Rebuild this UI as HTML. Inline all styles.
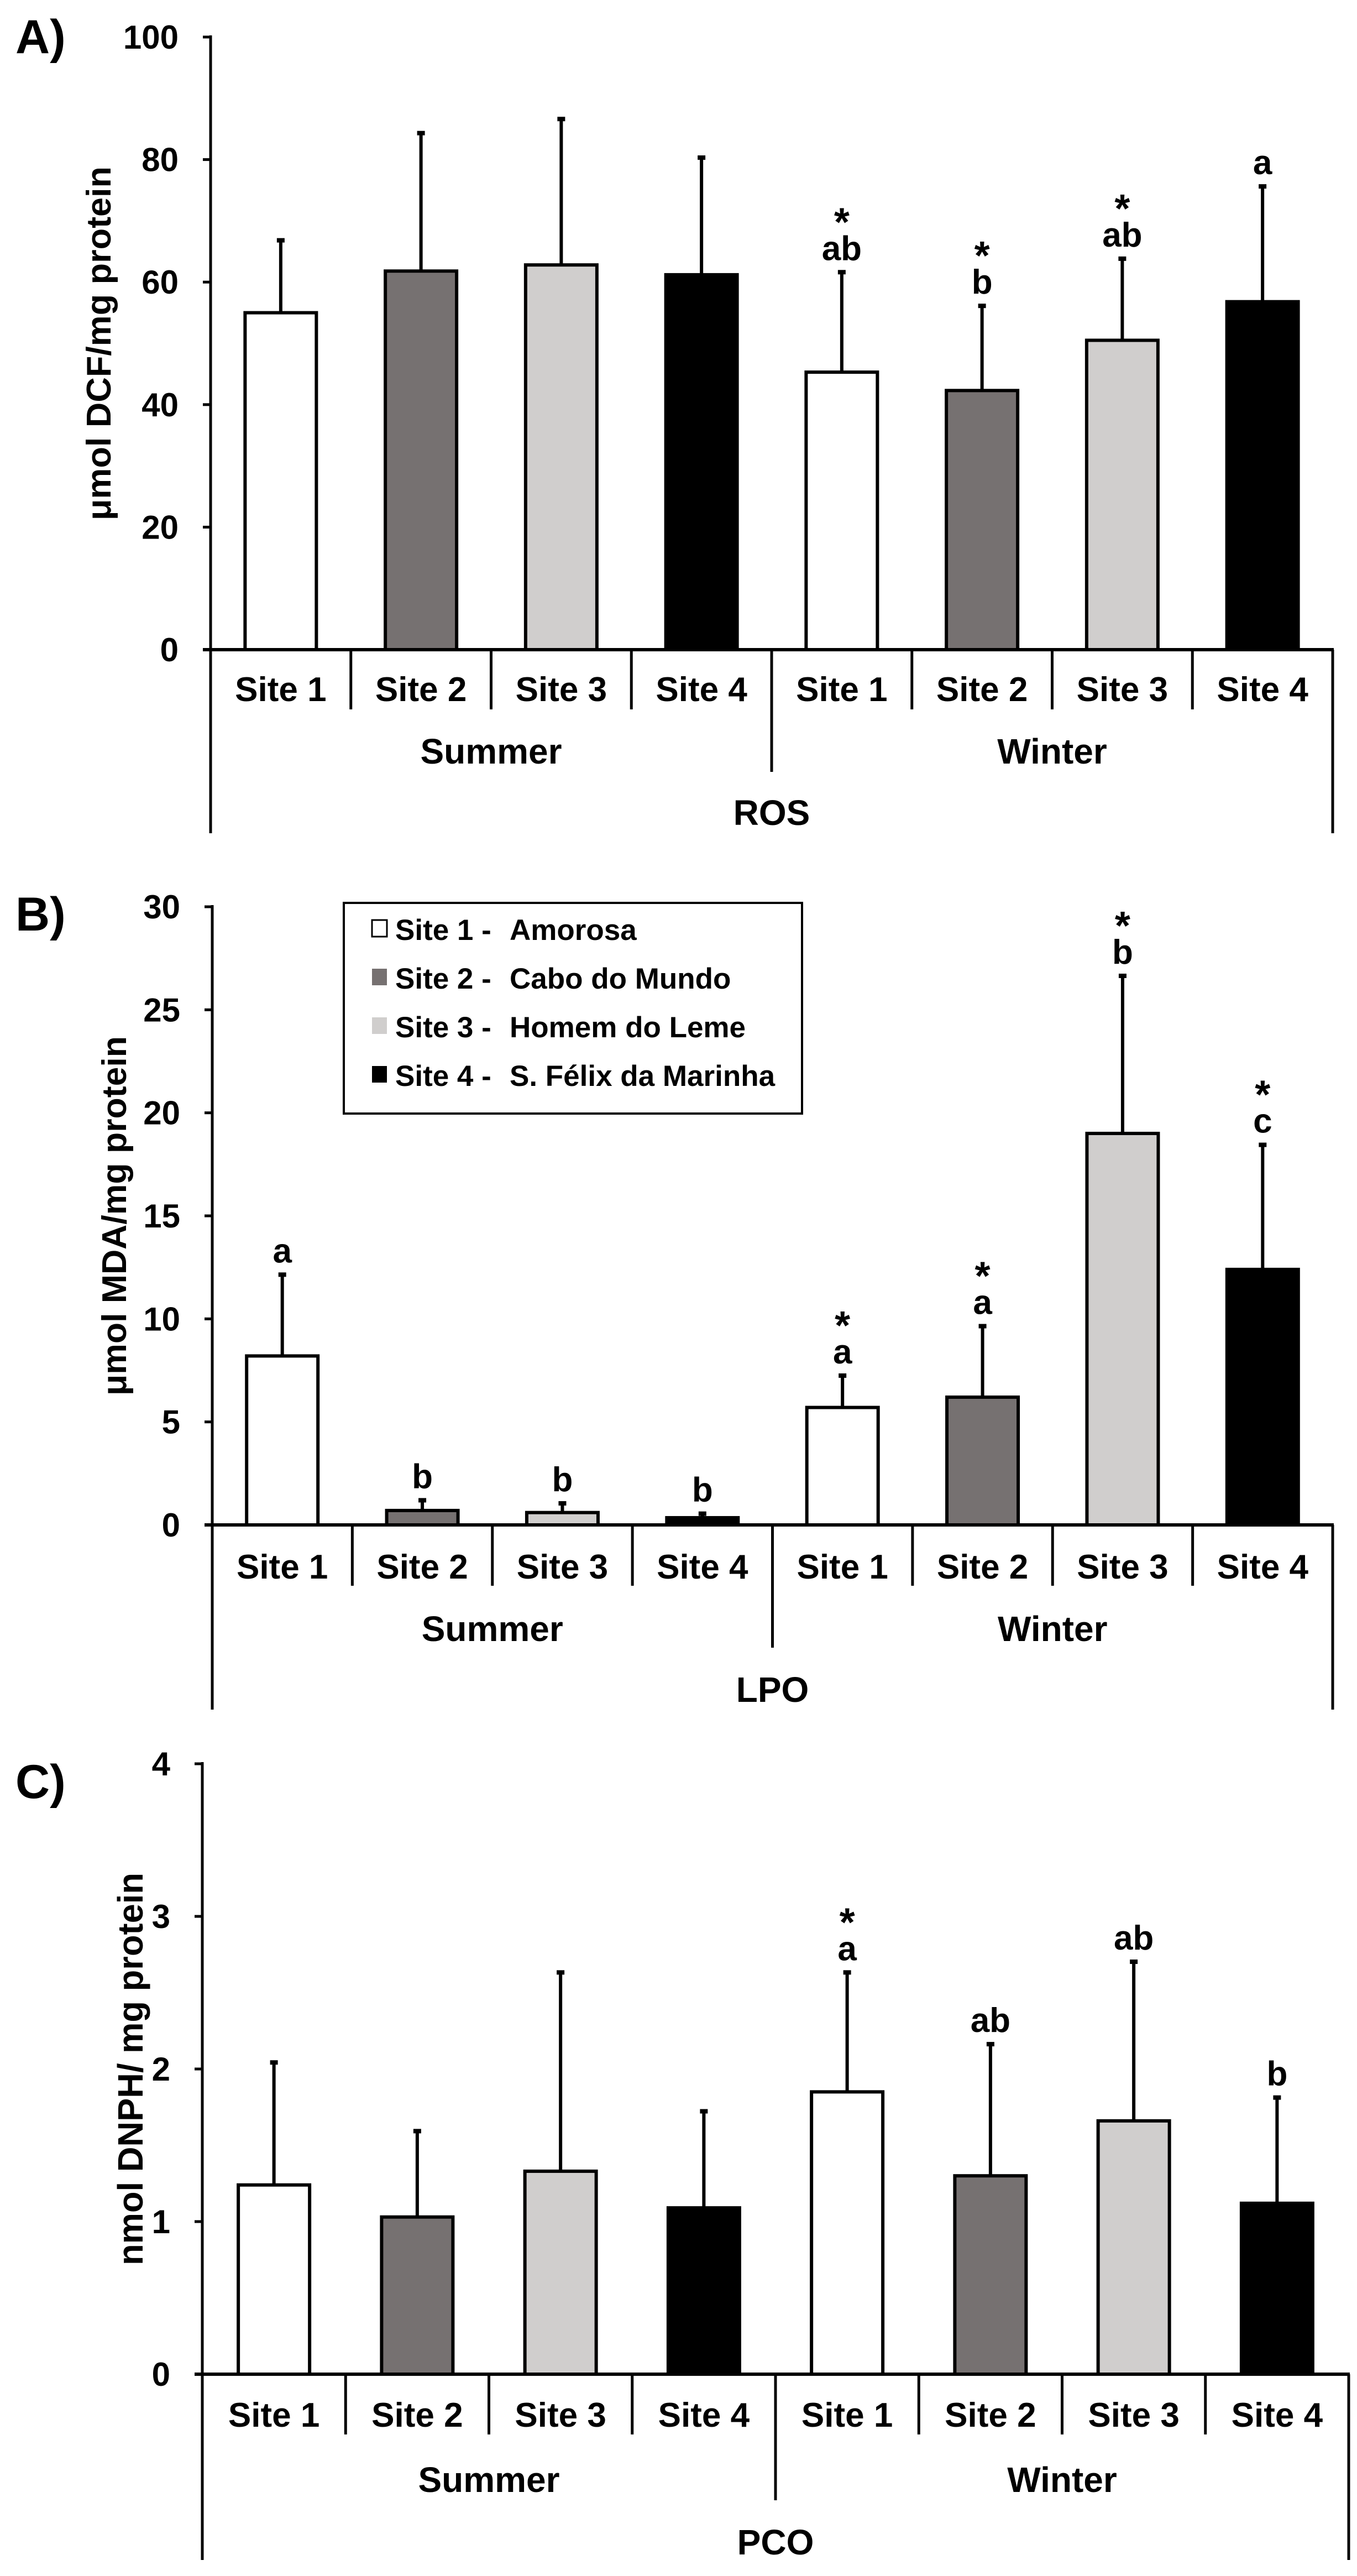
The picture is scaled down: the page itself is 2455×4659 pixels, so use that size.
<!DOCTYPE html>
<html><head><meta charset="utf-8"><style>
html,body{margin:0;padding:0;background:#fff;}
svg{display:block;font-family:"Liberation Sans",Arial,sans-serif;font-weight:bold;}
</style></head><body>
<svg id="fig" width="2455" height="4659" viewBox="0 0 2455 4659" xmlns="http://www.w3.org/2000/svg"></svg>
<script>
// Shared categories
const sites = ["Site 1","Site 2","Site 3","Site 4","Site 1","Site 2","Site 3","Site 4"];
const seasons = ["Summer","Winter"];
const fills = ["#ffffff","#767171","#d0cecd","#000000","#ffffff","#767171","#d0cecd","#000000"];
const legendNames = ["Site 1 -  Amorosa","Site 2 -  Cabo do Mundo","Site 3 -  Homem do Leme","Site 4 -  S. Félix da Marinha"];
const legendFills = ["#ffffff","#767171","#d0cecd","#000000"];

// Panel A - ROS
const rosMeans = [55, 61.8, 62.8, 61.2, 45.3, 42.3, 50.5, 56.8];
const rosErrTop = [67, 84.5, 86.8, 80.5, 61.8, 56.3, 64, 75.8];
const rosLetters = ["","","","","ab","b","ab","a"];
const rosStars = [false,false,false,false,true,true,true,false];
const rosTicks = [0,20,40,60,80,100];

// Panel B - LPO
const lpoMeans = [8.2, 0.7, 0.6, 0.35, 5.7, 6.2, 19, 12.4];
const lpoErrTop = [12.2, 1.25, 1.1, 0.6, 7.3, 9.7, 26.7, 18.5];
const lpoLetters = ["a","b","b","b","a","a","b","c"];
const lpoStars = [false,false,false,false,true,true,true,true];
const lpoTicks = [0,5,10,15,20,25,30];

// Panel C - PCO
const pcoMeans = [1.24, 1.03, 1.33, 1.09, 1.85, 1.30, 1.66, 1.12];
const pcoErrTop = [2.05, 1.60, 2.64, 1.73, 2.64, 2.17, 2.71, 1.82];
const pcoLetters = ["","","","","a","ab","ab","b"];
const pcoStars = [false,false,false,false,true,false,false,false];
const pcoTicks = [0,1,2,3,4];

const NS = "http://www.w3.org/2000/svg";
const svg = document.getElementById("fig");
function mk(tag, attrs, parent, text){
  const e = document.createElementNS(NS, tag);
  for (const k in attrs) e.setAttribute(k, attrs[k]);
  if (text !== undefined) e.textContent = text;
  (parent || svg).appendChild(e);
  return e;
}

function panel(cfg){
  const g = mk("g", {});
  
  
  const x0 = cfg.x0, x1 = cfg.x1, y0 = cfg.y0, yT = cfg.yTop, maxV = cfg.ticks[cfg.ticks.length-1];
  const yS = v => y0 - (v / maxV) * (y0 - yT);
  const cw = (x1 - x0) / cfg.means.length;
  const xC = i => x0 + cw * (i + 0.5);

  const pl = mk("text", {x: 28, y: cfg.letterY, "font-size": 86}, g, cfg.letter);
  
  

  const yt = mk("text", {x: 0, y: 0, "font-size": cfg.titleSize, "text-anchor": "middle",
    transform: `translate(${cfg.titleX},${(yT + y0) / 2}) rotate(-90)`, textLength: cfg.titleLen, lengthAdjust: "spacingAndGlyphs"}, g, cfg.yTitle);
  
  

  cfg.ticks.forEach(t => {
    const y = yS(t);
    const tk = mk("line", {x1: x0 - 14, x2: x0, y1: y, y2: y, stroke: "#000", "stroke-width": 5}, g);
    
    
    const tl = mk("text", {x: x0 - 58, y: y + 21, "font-size": 60, "text-anchor": "end"}, g, String(t));
    
    
  });

  cfg.means.forEach((v, i) => {
    const cx = xC(i), bw = 129;
    const et = yS(cfg.errTop[i]);
    const el = mk("line", {x1: cx, x2: cx, y1: yS(v), y2: et, stroke: "#000", "stroke-width": 6}, g);
    
    
    const cap = mk("rect", {x: cx - 7, y: et - 2, width: 14, height: 8, fill: "#000"}, g);
    
    
    const b = mk("rect", {x: cx - bw / 2, y: yS(v), width: bw, height: y0 - yS(v), fill: fills[i], stroke: "#000", "stroke-width": 6}, g);
    
    
    const lb = et - 20;
    if (cfg.letters[i]) {
      const lt = mk("text", {x: cx, y: lb, "font-size": 62, "text-anchor": "middle"}, g, cfg.letters[i]);
      
      
    }
    if (cfg.stars[i]) {
      const st = mk("text", {x: cx, y: lb - 44, "font-size": 72, "text-anchor": "middle"}, g, "*");
      
      
    }
  });

  const ya = mk("line", {x1: x0, x2: x0, y1: yT - 3, y2: cfg.outerBottom, stroke: "#000", "stroke-width": 5}, g);
  
  
  const xa = mk("line", {x1: x0 - 14, x2: x1 + 2, y1: y0, y2: y0, stroke: "#000", "stroke-width": 6}, g);
  
  
  const ro = mk("line", {x1: x1, x2: x1, y1: y0, y2: cfg.outerBottom, stroke: "#000", "stroke-width": 5}, g);
  
  
  for (let i = 1; i < cfg.means.length; i++) {
    const xd = x0 + cw * i;
    const d = mk("line", {x1: xd, x2: xd, y1: y0, y2: i === 4 ? cfg.midBottom : cfg.divBottom, stroke: "#000", "stroke-width": 5}, g);
    
    
  }
  sites.forEach((s, i) => {
    const t = mk("text", {x: xC(i), y: cfg.siteY, "font-size": 62, "text-anchor": "middle"}, g, s);
    
    
  });
  seasons.forEach((s, j) => {
    const t = mk("text", {x: x0 + cw * (4 * j + 2), y: cfg.seasonY, "font-size": 64, "text-anchor": "middle"}, g, s);
    
    
  });
  const gt = mk("text", {x: (x0 + x1) / 2, y: cfg.groupY, "font-size": 64, "text-anchor": "middle"}, g, cfg.group);
  
  
}

panel({name: "panel-a-ros", letter: "A)", letterY: 96, yTitle: "μmol DCF/mg protein", titleX: 200, titleSize: 62, titleLen: 640,
  x0: 381, x1: 2411, yTop: 67, y0: 1175, ticks: rosTicks, means: rosMeans, errTop: rosErrTop, letters: rosLetters, stars: rosStars,
  siteY: 1268, seasonY: 1381, groupY: 1492, divBottom: 1283, midBottom: 1396, outerBottom: 1507, group: "ROS"});

panel({name: "panel-b-lpo", letter: "B)", letterY: 1683, yTitle: "μmol MDA/mg protein", titleX: 228, titleSize: 62, titleLen: 650,
  x0: 384, x1: 2411, yTop: 1640, y0: 2758, ticks: lpoTicks, means: lpoMeans, errTop: lpoErrTop, letters: lpoLetters, stars: lpoStars,
  siteY: 2855, seasonY: 2968, groupY: 3078, divBottom: 2868, midBottom: 2980, outerBottom: 3092, group: "LPO"});

panel({name: "panel-c-pco", letter: "C)", letterY: 3252, yTitle: "nmol DNPH/ mg protein", titleX: 258, titleSize: 64, titleLen: 710,
  x0: 366, x1: 2440, yTop: 3190, y0: 4294, ticks: pcoTicks, means: pcoMeans, errTop: pcoErrTop, letters: pcoLetters, stars: pcoStars,
  siteY: 4389, seasonY: 4507, groupY: 4620, divBottom: 4403, midBottom: 4522, outerBottom: 4630, group: "PCO"});

const lg = mk("g", {});


const lbox = mk("rect", {x: 622, y: 1633, width: 829, height: 381, fill: "#fff", stroke: "#000", "stroke-width": 4}, lg);


legendNames.forEach((n, i) => {
  const by = 1700 + i * 88;
  const sw = mk("rect", {x: 673, y: by - 36, width: 27, height: 30, fill: legendFills[i], stroke: i === 0 ? "#000" : "none", "stroke-width": 3}, lg);
  
  
  const parts = n.split(" -  ");
  const t1 = mk("text", {x: 715, y: by, "font-size": 53}, lg, parts[0] + " -");
  
  
  const t2 = mk("text", {x: 922, y: by, "font-size": 53}, lg, parts[1]);
  
  
});
</script>
</body></html>
